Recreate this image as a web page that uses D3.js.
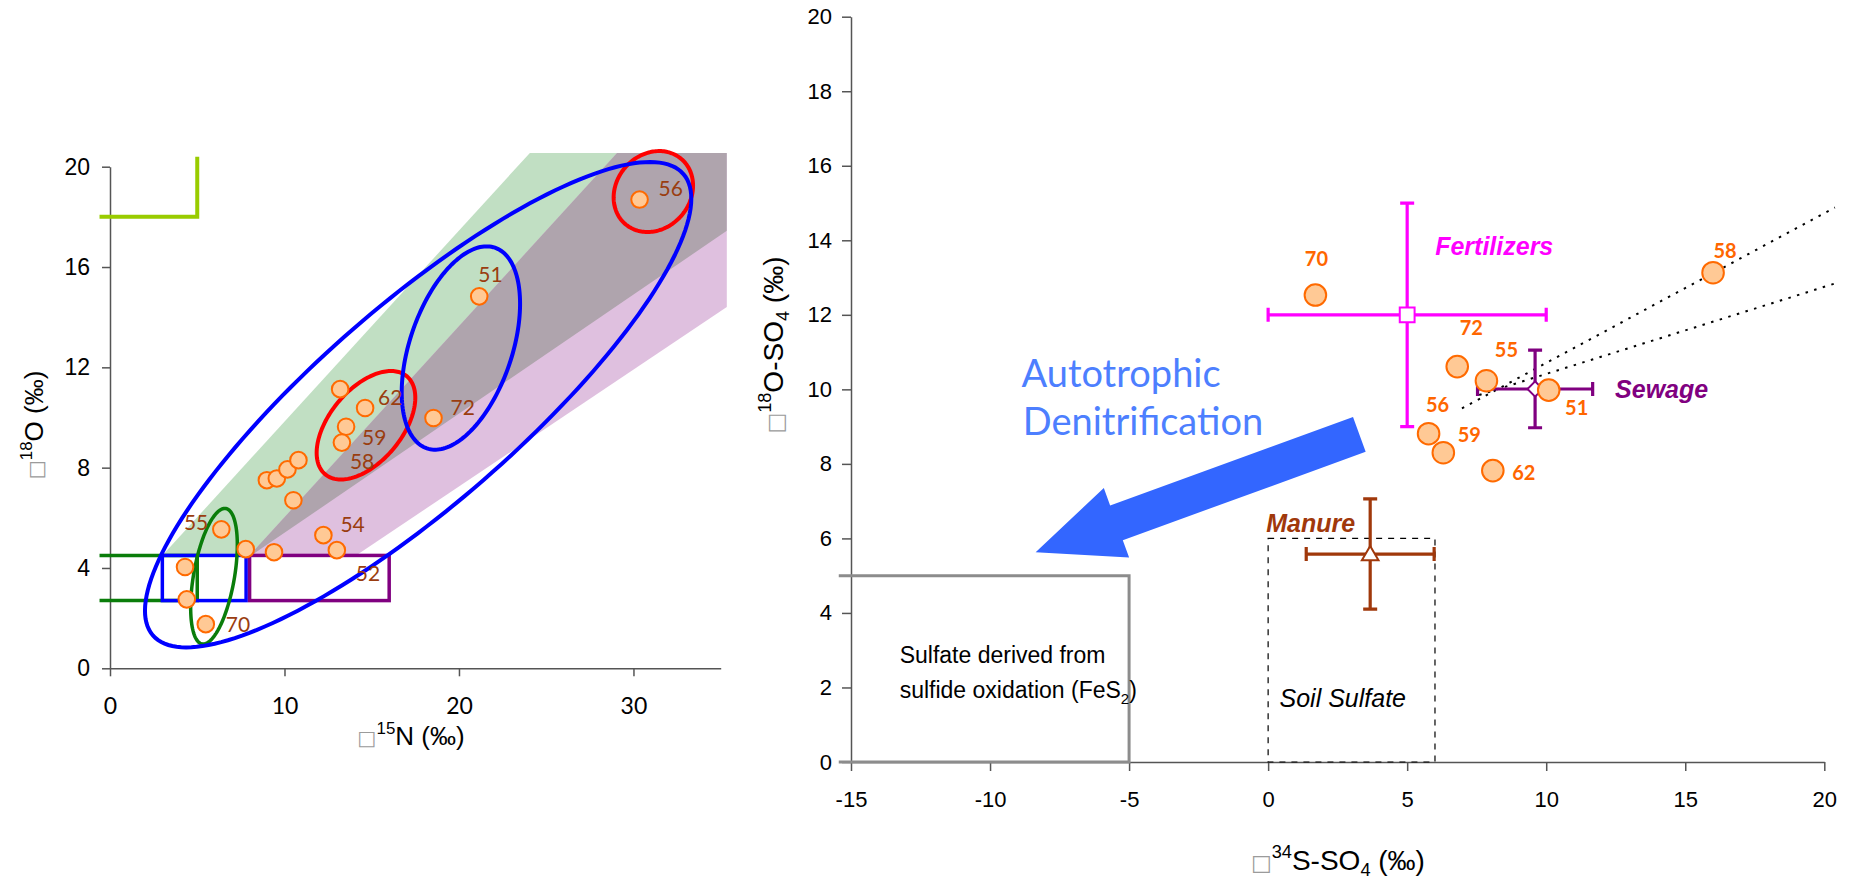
<!DOCTYPE html>
<html>
<head>
<meta charset="utf-8">
<script src="https://cdn.jsdelivr.net/npm/d3@7"></script>
<style>
  body { margin: 0; background: #fff; }
  svg { display: block; }
</style>
</head>
<body>
<svg id="fig" width="1849" height="880"></svg>
<script>
// ===== Left panel: nitrate isotopes (δ15N vs δ18O) =====
const nitrateN15 = [4.30, 4.40, 5.49, 6.38, 7.78, 9.40, 12.23, 13.00, 8.99, 9.56,
                    10.17, 10.80, 10.51, 13.53, 13.29, 13.19, 14.62, 21.16, 18.54, 30.35];
const nitrateO18 = [4.04, 2.75, 1.76, 5.54, 4.75, 4.63, 5.31, 4.71, 7.50, 7.57,
                    7.93, 8.30, 6.70, 9.63, 9.00, 11.13, 10.38, 14.83, 9.98, 18.69];
const nitrateIds = ["", "", "70", "55", "", "", "54", "52", "", "",
                    "", "", "", "59", "58", "", "62", "51", "72", "56"];

const nTicksX = [0, 10, 20, 30];
const nTicksY = [0, 4, 8, 12, 16, 20];

// source fields (δ15N range, δ18O range)
const soilBoxN = [3, 7.8],   soilBoxO = [2.7, 4.5];
const manureBoxN = [8, 16],  manureBoxO = [2.7, 4.5];
const ammoniumBoxN = [-0.6, 5], ammoniumBoxO = [2.7, 4.5];
const nitrateFertN = [-0.6, 5], nitrateFertO = [18, 20.4];

// denitrification wedges: base start/end on δ18O = 4.5, upper and lower slopes
const wedgeBaseO = 4.5, wedgeTopO = 20.55, wedgeEndN = 35.35;
const soilWedge   = { from: 3.0, to: 8.1, upper: 0.762, lower: 0.475 };
const manureWedge = { from: 8.0, to: 14.1, upper: 0.762, lower: 0.466 };

// grouping ellipses: centre and two conjugate semi-axes (data units)
const ringCentre = [[17.66, 10.51], [14.67, 9.69], [20.11, 12.77], [5.96, 3.67], [31.14, 19.01]];
const ringMajor  = [[15.20, 9.20], [2.33, 1.96], [1.95, 4.00], [0.678, 2.70], [1.619, 1.290]];
const ringMinor  = [[3.75, -3.00], [1.60, -0.915], [2.775, -0.654], [1.152, -0.140], [1.599, -0.969]];
const ringColour = ["#0000ff", "#ff0000", "#0000ff", "#0a7d0a", "#ff0000"];
const ringOrder  = [1, 4, 3, 0, 2];

// ===== Right panel: sulfate isotopes (δ34S vs δ18O) =====
const sulfateS34 = [1.70, 16.00, 6.80, 7.85, 10.09, 5.77, 6.30, 8.08];
const sulfateO18 = [12.53, 13.13, 10.61, 10.23, 9.98, 8.81, 8.30, 7.82];
const sulfateIds = ["70", "58", "72", "55", "51", "56", "59", "62"];

const sourceNames  = ["Fertilizers", "Sewage", "Manure"];
const sourceS34    = [5.0, 9.6, 3.67];
const sourceS34Err = [5.0, 2.07, 2.3];
const sourceO18    = [12.0, 10.01, 5.58];
const sourceO18Err = [3.0, 1.04, 1.48];

const sTicksX = [-15, -10, -5, 0, 5, 10, 15, 20];
const sTicksY = [0, 2, 4, 6, 8, 10, 12, 14, 16, 18, 20];

const pyriteBoxS = [-15.44, -5], pyriteBoxO = [0, 5];
const soilSulfS = [0, 6], soilSulfO = [0, 6];
const mixingLineA = [[6.97, 9.49], [20.38, 14.88]];
const mixingLineB = [[7.59, 9.85], [20.38, 12.84]];
const denitArrow = [[3.28, 8.79], [-8.36, 5.63]];

// ---------- layout & style ----------
const AX = "#555";
const SANS = "'Liberation Sans', Arial, sans-serif";
const HUMAN = "Lato, 'Open Sans', sans-serif";
const POINT_FILL = "#ffc995", POINT_STROKE = "#ff6a00";
const plainNumber = d => String(d);   // keeps an ASCII hyphen for negatives

// label offsets (px) relative to the marker centre
const nLabelPos = {
  "70": [20, 8, "start"], "55": [-13, 1, "end"], "54": [17, -3, "start"], "52": [19, 31, "start"],
  "59": [16, 18, "start"], "58": [8, 26, "start"], "62": [13, -3, "start"], "51": [-1, -14, "start"],
  "72": [17, -3, "start"], "56": [19, -4, "start"]
};
const sLabelPos = {
  "70": [1, -37], "58": [12, -23], "72": [14, -40], "55": [20, -32],
  "51": [28, 17], "56": [9, -30], "59": [26, -19], "62": [31, 1]
};
const sourceColour = ["#ff00ff", "#800080", "#a0380b"];
const sourceLabelPos = [[28, -60, "start"], [80, 9, "start"], [-15, -22, "end"]];

const svg = d3.select("#fig");
svg.append("rect").attr("width", 1849).attr("height", 880).attr("fill", "#fff");

// =====================================================================
// Left panel
// =====================================================================
const xN = d3.scaleLinear().domain([0, 35]).range([110, 720.7]);
const yO = d3.scaleLinear().domain([0, 20]).range([668.3, 166.7]);
const L = svg.append("g");

function wedgePoly(w) {
  const xu = w.from + (wedgeTopO - wedgeBaseO) / w.upper;
  const yl = wedgeBaseO + (wedgeEndN - w.to) * w.lower;
  return [[w.from, wedgeBaseO], [xu, wedgeTopO], [wedgeEndN, wedgeTopO], [wedgeEndN, yl], [w.to, wedgeBaseO]]
    .map(p => [xN(p[0]), yO(p[1])]);
}
const polyLine = d3.line().curve(d3.curveLinearClosed);
const soilPoly = wedgePoly(soilWedge), manurePoly = wedgePoly(manureWedge);

L.append("defs").append("clipPath").attr("id", "soilWedgeClip")
  .append("path").attr("d", polyLine(soilPoly));
L.append("path").attr("d", polyLine(soilPoly)).attr("fill", "#c1dfc3");
L.append("path").attr("d", polyLine(manurePoly)).attr("fill", "#dfc0df");
L.append("path").attr("d", polyLine(manurePoly)).attr("fill", "#afa4ad")
  .attr("clip-path", "url(#soilWedgeClip)");

// axes
const axNy = L.append("g").attr("transform", `translate(${xN(0)},0)`)
  .call(d3.axisLeft(yO).tickValues(nTicksY).tickFormat(plainNumber).tickSize(8).tickPadding(12).tickSizeOuter(0));
const axNx = L.append("g").attr("transform", `translate(0,${yO(0)})`)
  .call(d3.axisBottom(xN).tickValues(nTicksX).tickFormat(plainNumber).tickSize(8).tickPadding(21).tickSizeOuter(0));
[axNy, axNx].forEach(a => {
  a.select(".domain").attr("stroke", AX).attr("stroke-width", 1.5);
  a.selectAll(".tick line").attr("stroke", AX).attr("stroke-width", 1.5);
});
axNy.selectAll("text").attr("font-family", SANS).attr("font-size", 23).attr("fill", "#000");
axNx.selectAll("text").attr("font-family", HUMAN).attr("font-size", 23).attr("fill", "#000");

// source fields
const openBox = (xr, yr) => `M${xN(xr[0])},${yO(yr[1])}H${xN(xr[1])}V${yO(yr[0])}H${xN(xr[0])}`;
L.append("path").attr("d", `M${xN(nitrateFertN[0])},${yO(nitrateFertO[0])}H${xN(nitrateFertN[1])}V${yO(nitrateFertO[1])}`)
  .attr("fill", "none").attr("stroke", "#99cc00").attr("stroke-width", 4);
L.append("path").attr("d", openBox(ammoniumBoxN, ammoniumBoxO))
  .attr("fill", "none").attr("stroke", "#0a7d0a").attr("stroke-width", 3.5);
const closedBox = (xr, yr, c) => L.append("rect")
  .attr("x", xN(xr[0])).attr("y", yO(yr[1]))
  .attr("width", xN(xr[1]) - xN(xr[0])).attr("height", yO(yr[0]) - yO(yr[1]))
  .attr("fill", "none").attr("stroke", c).attr("stroke-width", 3.5);
closedBox(soilBoxN, soilBoxO, "#0000ff");
closedBox(manureBoxN, manureBoxO, "#800080");

// ellipses
function ringPath(i) {
  const c = ringCentre[i], a = ringMajor[i], b = ringMinor[i];
  const pts = d3.range(0, 360, 2).map(deg => {
    const t = deg * Math.PI / 180;
    return [xN(c[0] + a[0] * Math.cos(t) + b[0] * Math.sin(t)),
            yO(c[1] + a[1] * Math.cos(t) + b[1] * Math.sin(t))];
  });
  return polyLine(pts);
}
ringOrder.forEach(i => {
  L.append("path").attr("d", ringPath(i)).attr("fill", "none")
    .attr("stroke", ringColour[i]).attr("stroke-width", i === 3 ? 3.5 : 4);
});

// samples
L.append("g").selectAll("circle").data(nitrateN15).join("circle")
  .attr("cx", d => xN(d)).attr("cy", (d, i) => yO(nitrateO18[i])).attr("r", 8.3)
  .attr("fill", POINT_FILL).attr("stroke", POINT_STROKE).attr("stroke-width", 2);
L.append("g").selectAll("text").data(nitrateIds.map((id, i) => ({ id, i })).filter(d => d.id))
  .join("text")
  .attr("x", d => xN(nitrateN15[d.i]) + nLabelPos[d.id][0])
  .attr("y", d => yO(nitrateO18[d.i]) + nLabelPos[d.id][1])
  .attr("text-anchor", d => nLabelPos[d.id][2])
  .attr("font-family", HUMAN).attr("font-size", 21).attr("fill", "#9a3d10")
  .text(d => d.id);

// axis titles
function isoTitle(g, x, y, rot, mass, rest, size, sub) {
  const t = g.append("text")
    .attr("transform", `translate(${x},${y})` + (rot ? " rotate(-90)" : ""))
    .attr("text-anchor", "middle").attr("font-family", SANS).attr("font-size", size).attr("fill", "#000");
  t.append("tspan").attr("font-family", "'DejaVu Sans', sans-serif").attr("font-size", size * 0.78)
    .attr("fill", "#9b9b9b").text("\u25A1");
  t.append("tspan").attr("font-size", size * 0.65).attr("dy", -size * 0.42).text(mass);
  if (sub) {
    t.append("tspan").attr("dy", size * 0.42).text(rest[0]);
    t.append("tspan").attr("font-size", size * 0.65).attr("dy", size * 0.2).text(sub);
    t.append("tspan").attr("dy", -size * 0.2).text(rest[1]);
  } else {
    t.append("tspan").attr("dy", size * 0.42).text(rest);
  }
}
isoTitle(L, 43, 425, true, "18", "O (‰)", 26);
isoTitle(L, 411, 745, false, "15", "N (‰)", 26);

// =====================================================================
// Right panel
// =====================================================================
const xS = d3.scaleLinear().domain([-15, 20]).range([851, 1824.3]);
const yS = d3.scaleLinear().domain([0, 20]).range([762, 16.7]);
const R = svg.append("g");

const axSy = R.append("g").attr("transform", `translate(${xS(-15)},0)`)
  .call(d3.axisLeft(yS).tickValues(sTicksY).tickFormat(plainNumber).tickSize(9).tickPadding(10).tickSizeOuter(0));
const axSx = R.append("g").attr("transform", `translate(0,${yS(0)})`)
  .call(d3.axisBottom(xS).tickValues(sTicksX).tickFormat(plainNumber).tickSize(9).tickPadding(20).tickSizeOuter(0));
[axSy, axSx].forEach(a => {
  a.select(".domain").attr("stroke", AX).attr("stroke-width", 1.5);
  a.selectAll(".tick line").attr("stroke", AX).attr("stroke-width", 1.5);
  a.selectAll("text").attr("font-family", SANS).attr("font-size", 22).attr("fill", "#000");
});

// pyrite-oxidation field (open on its left side)
R.append("path")
  .attr("d", `M${xS(pyriteBoxS[0])},${yS(pyriteBoxO[1])}H${xS(pyriteBoxS[1])}V${yS(pyriteBoxO[0])}H${xS(pyriteBoxS[0])}`)
  .attr("fill", "none").attr("stroke", "#8c8c8c").attr("stroke-width", 3);
const pyText = R.append("text").attr("font-family", SANS).attr("font-size", 23).attr("fill", "#000");
pyText.append("tspan").attr("x", xS(-13.25)).attr("y", yS(2.65)).text("Sulfate derived from");
pyText.append("tspan").attr("x", xS(-13.25)).attr("y", yS(1.71)).text("sulfide oxidation (FeS");
pyText.append("tspan").attr("font-size", 15).attr("dy", 6).text("2");
pyText.append("tspan").attr("dy", -6).text(")");

// soil sulfate field
R.append("rect").attr("x", xS(soilSulfS[0])).attr("y", yS(soilSulfO[1]))
  .attr("width", xS(soilSulfS[1]) - xS(soilSulfS[0])).attr("height", yS(soilSulfO[0]) - yS(soilSulfO[1]))
  .attr("fill", "none").attr("stroke", "#000").attr("stroke-width", 1.2).attr("stroke-dasharray", "6,6");
R.append("text").attr("x", xS(0.41)).attr("y", yS(1.47))
  .attr("font-family", SANS).attr("font-style", "italic").attr("font-size", 25).attr("fill", "#000")
  .text("Soil Sulfate");

// mixing lines
[mixingLineA, mixingLineB].forEach(seg => {
  R.append("path").attr("d", d3.line().x(p => xS(p[0])).y(p => yS(p[1]))(seg))
    .attr("fill", "none").attr("stroke", "#000").attr("stroke-width", 2).attr("stroke-dasharray", "2.5,6.5");
});

// denitrification arrow
(function () {
  const tail = [xS(denitArrow[0][0]), yS(denitArrow[0][1])];
  const tip = [xS(denitArrow[1][0]), yS(denitArrow[1][1])];
  const dx = tip[0] - tail[0], dy = tip[1] - tail[1], len = Math.hypot(dx, dy);
  const ux = dx / len, uy = dy / len, nx = -uy, ny = ux;
  const sh = 18.5, hh = 37, hl = 86;
  const bx = tip[0] - ux * hl, by = tip[1] - uy * hl;
  const pts = [
    [tail[0] + nx * sh, tail[1] + ny * sh], [bx + nx * sh, by + ny * sh], [bx + nx * hh, by + ny * hh],
    tip, [bx - nx * hh, by - ny * hh], [bx - nx * sh, by - ny * sh], [tail[0] - nx * sh, tail[1] - ny * sh]
  ];
  R.append("path").attr("d", polyLine(pts)).attr("fill", "#3366ff");
})();
const dn = R.append("text").attr("font-family", HUMAN).attr("font-size", 38).attr("fill", "#4d7fff");
dn.append("tspan").attr("x", xS(-8.87)).attr("y", yS(10.07)).text("Autotrophic");
dn.append("tspan").attr("x", xS(-8.82)).attr("y", yS(8.77)).text("Denitrification");

// source end-members with error bars
sourceNames.forEach((name, i) => {
  const c = sourceColour[i];
  const cx = xS(sourceS34[i]), cy = yS(sourceO18[i]);
  const x0 = xS(sourceS34[i] - sourceS34Err[i]), x1 = xS(sourceS34[i] + sourceS34Err[i]);
  const y0 = yS(sourceO18[i] - sourceO18Err[i]), y1 = yS(sourceO18[i] + sourceO18Err[i]);
  const cap = 7, g = R.append("g").attr("stroke", c).attr("stroke-width", 3.2).attr("fill", "none");
  g.append("path").attr("d",
    `M${x0},${cy}H${x1}M${x0},${cy - cap}V${cy + cap}M${x1},${cy - cap}V${cy + cap}` +
    `M${cx},${y0}V${y1}M${cx - cap},${y0}H${cx + cap}M${cx - cap},${y1}H${cx + cap}`);
  const sym = [d3.symbolSquare, d3.symbolSquare, d3.symbolTriangle][i];
  const size = [220, 115, 120][i];
  R.append("path").attr("d", d3.symbol(sym, size)())
    .attr("transform", `translate(${cx},${cy + (i === 2 ? 1.5 : 0)})` + (i === 1 ? " rotate(45)" : ""))
    .attr("fill", "#fff").attr("stroke", c).attr("stroke-width", 2);
  R.append("text").attr("x", cx + sourceLabelPos[i][0]).attr("y", cy + sourceLabelPos[i][1])
    .attr("text-anchor", sourceLabelPos[i][2])
    .attr("font-family", SANS).attr("font-weight", "bold").attr("font-style", "italic")
    .attr("font-size", 25).attr("fill", c).text(name);
});

// samples
R.append("g").selectAll("circle").data(sulfateS34).join("circle")
  .attr("cx", d => xS(d)).attr("cy", (d, i) => yS(sulfateO18[i])).attr("r", 10.8)
  .attr("fill", POINT_FILL).attr("stroke", POINT_STROKE).attr("stroke-width", 2);
R.append("g").selectAll("text").data(sulfateIds).join("text")
  .attr("x", (d, i) => xS(sulfateS34[i]) + sLabelPos[d][0])
  .attr("y", (d, i) => yS(sulfateO18[i]) + sLabelPos[d][1])
  .attr("text-anchor", "middle").attr("dominant-baseline", "central")
  .attr("font-family", HUMAN).attr("font-weight", "bold").attr("font-size", 20).attr("fill", "#ff6600")
  .text(d => d);

// axis titles
isoTitle(R, 783, 345, true, "18", ["O-SO", " (‰)"], 28, "4");
isoTitle(R, 1338, 870, false, "34", ["S-SO", " (‰)"], 28, "4");
</script>
</body>
</html>
